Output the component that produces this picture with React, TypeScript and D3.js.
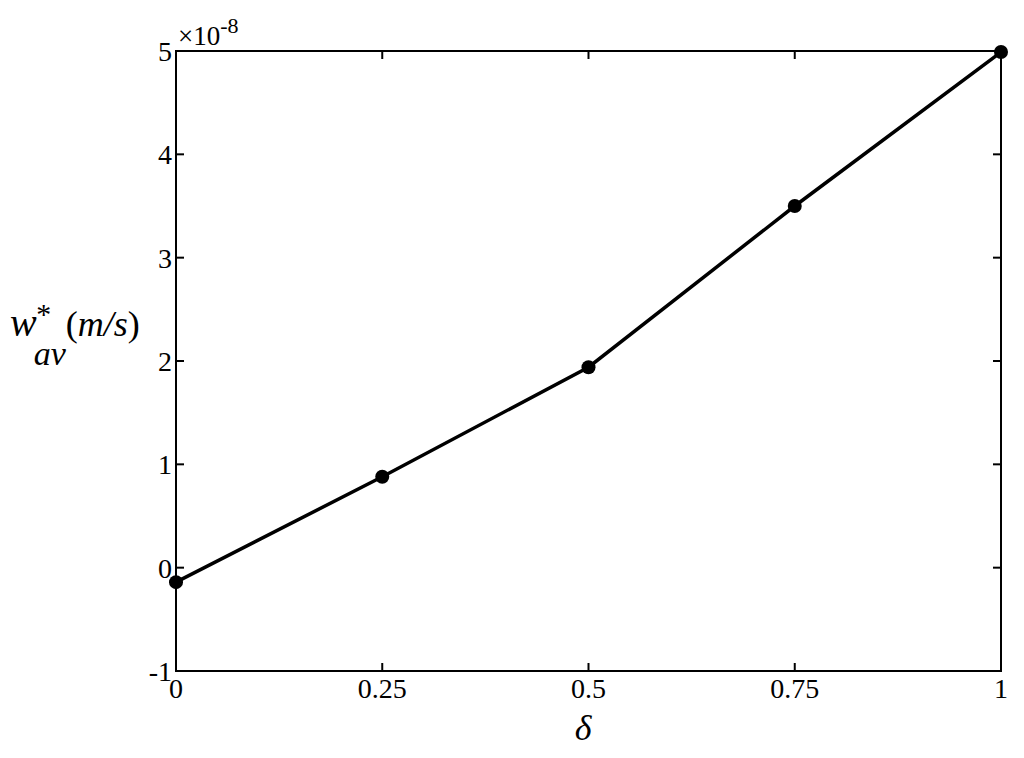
import React from 'react'
import * as d3 from 'd3'

const deltas = [0, 0.25, 0.5, 0.75, 1]
const wav = [-0.14, 0.88, 1.94, 3.5, 4.99]
const xTicks = [0, 0.25, 0.5, 0.75, 1]
const xTickLabels = ['0', '0.25', '0.5', '0.75', '1']
const yTicks = [-1, 0, 1, 2, 3, 4, 5]

const W = 1024
const H = 758
const margin = { left: 176, right: 23, top: 51, bottom: 87 }
const FONT = 'Liberation Serif, Times New Roman, serif'

export default function App() {
  const x = d3.scaleLinear().domain([0, 1]).range([margin.left, W - margin.right])
  const y = d3.scaleLinear().domain([-1, 5]).range([H - margin.bottom, margin.top])
  const line = d3.line<number>().x((_, i) => x(deltas[i])).y((d) => y(d))
  const tl = 8
  const [x0, x1] = x.range()
  const [y0, y1] = y.range()

  return (
    <svg width={W} height={H} style={{ position: 'absolute', left: 0, top: 0, background: '#fff', fontFamily: FONT }}>
      <rect x={x0} y={y1} width={x1 - x0} height={y0 - y1} fill="none" stroke="#000" strokeWidth={2} />
      {xTicks.map((t, i) => (
        <g key={'x' + i}>
          <line x1={x(t)} x2={x(t)} y1={y0} y2={y0 - tl} stroke="#000" strokeWidth={2} />
          <line x1={x(t)} x2={x(t)} y1={y1} y2={y1 + tl} stroke="#000" strokeWidth={2} />
          <text x={x(t)} y={y0 + 27} textAnchor="middle" fontSize={28}>{xTickLabels[i]}</text>
        </g>
      ))}
      {yTicks.map((t) => (
        <g key={'y' + t}>
          <line x1={x0} x2={x0 + tl} y1={y(t)} y2={y(t)} stroke="#000" strokeWidth={2} />
          <line x1={x1} x2={x1 - tl} y1={y(t)} y2={y(t)} stroke="#000" strokeWidth={2} />
          <text x={x0 - 4} y={y(t) + 10} textAnchor="end" fontSize={28}>{t}</text>
        </g>
      ))}
      <text x={x0 + 2} y={y1 - 6} fontSize={27}>
        ×10<tspan dy={-12} fontSize={22}>-8</tspan>
      </text>
      <path d={line(wav) || ''} fill="none" stroke="#000" strokeWidth={3.5} />
      {wav.map((v, i) => (
        <circle key={i} cx={x(deltas[i])} cy={y(v)} r={7} fill="#000" />
      ))}
      <text x={583} y={740} textAnchor="middle" fontSize={36} fontStyle="italic">δ</text>
      <text x={10} y={336} fontSize={36}>
        <tspan fontStyle="italic" fontSize={40}>w</tspan>
        <tspan fontStyle="italic" dx={-2} dy={-12} fontSize={30}>*</tspan>
        <tspan fontStyle="italic" dx={-16} dy={41} fontSize={34}>av</tspan>
        <tspan dy={-29}>(</tspan>
        <tspan fontStyle="italic">m/s</tspan>
        <tspan>)</tspan>
      </text>
    </svg>
  )
}
